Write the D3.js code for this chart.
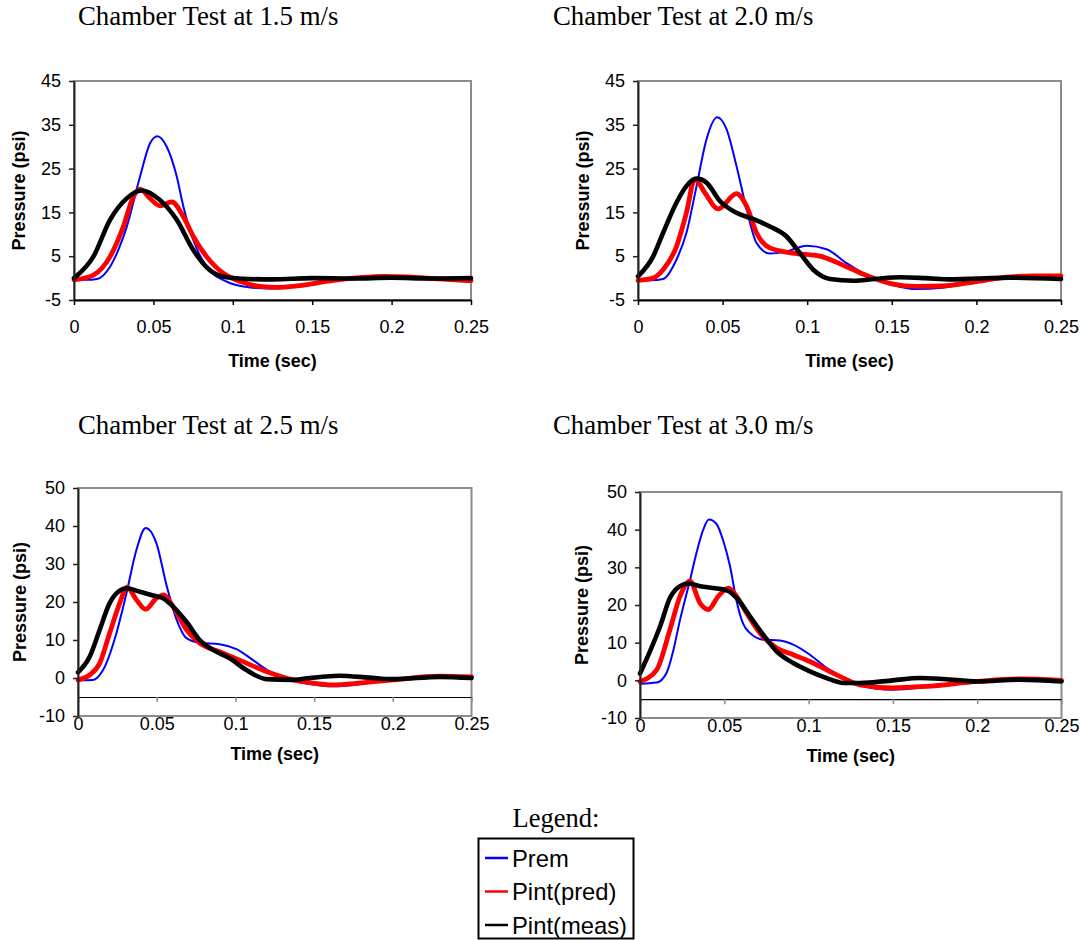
<!DOCTYPE html>
<html>
<head>
<meta charset="utf-8">
<script src="https://cdn.jsdelivr.net/npm/d3@7"></script>
<style>
  html, body { margin: 0; padding: 0; background: #fff; }
  svg { display: block; }
</style>
</head>
<body>
<svg id="chart" width="1091" height="940"></svg>
<script>
// Axis ticks shared by the panels
const timeTicks = [0, 0.05, 0.1, 0.15, 0.2, 0.25];
const yTicksLow = [-5, 5, 15, 25, 35, 45];
const yTicksHigh = [-10, 0, 10, 20, 30, 40, 50];

const panelTitles = [
  "Chamber Test at 1.5 m/s",
  "Chamber Test at 2.0 m/s",
  "Chamber Test at 2.5 m/s",
  "Chamber Test at 3.0 m/s"
];
const seriesNames = ["Prem", "Pint(pred)", "Pint(meas)"];

// [time (sec), pressure (psi)]
const prem15 = [[0,-0.4],[0.008,-0.4],[0.0145,-0.2],[0.0227,2.6],[0.028,6.5],[0.0332,11.7],[0.0416,23.2],[0.0479,30.8],[0.0525,32.4],[0.0584,30],[0.0647,23.2],[0.0689,16.3],[0.0751,8.7],[0.0835,2.6],[0.0961,-0.8],[0.11,-2.1],[0.124,-2.4],[0.14,-1.8],[0.16,-0.6],[0.18,0.1],[0.2,0.3],[0.225,0.1],[0.25,-0.2]];
const pred15 = [[0,-0.4],[0.0122,0.7],[0.0227,4.9],[0.031,11.7],[0.0374,18.6],[0.0416,20.3],[0.0479,18.2],[0.0542,16.5],[0.0615,17.4],[0.0689,14],[0.0751,9.5],[0.0835,4.9],[0.094,1.1],[0.105,-0.8],[0.117,-1.9],[0.128,-2.1],[0.14,-1.8],[0.16,-0.7],[0.18,0.1],[0.195,0.4],[0.21,0.3],[0.23,-0.2],[0.25,-0.6]];
const meas15 = [[0,0],[0.0122,4.9],[0.0227,13.3],[0.0332,18.2],[0.0426,20],[0.0542,17.8],[0.0647,13.3],[0.0751,6.4],[0.0856,1.8],[0.0961,0.2],[0.11,-0.2],[0.125,-0.3],[0.15,0],[0.175,-0.1],[0.2,0.1],[0.225,-0.1],[0.25,0]];

const prem20 = [[0,-0.5],[0.008,-0.5],[0.0148,-0.2],[0.0227,4.2],[0.0286,10.3],[0.0346,21],[0.0405,31.7],[0.0468,36.7],[0.0523,34],[0.0582,25.6],[0.0642,15.7],[0.0701,8],[0.0779,5.6],[0.0878,6.1],[0.0997,7.4],[0.1115,6.6],[0.1233,3.4],[0.137,0.3],[0.15,-1.5],[0.165,-2.5],[0.18,-2.2],[0.2,-0.8],[0.22,0.2],[0.235,0.4],[0.25,0.3]];
const pred20 = [[0,-0.5],[0.0089,0],[0.0148,1.9],[0.0227,7.2],[0.0286,14.9],[0.0336,22.6],[0.0395,19.5],[0.0474,15.8],[0.0582,19.3],[0.0642,16.4],[0.0701,10.3],[0.0779,6.9],[0.0917,5.7],[0.1075,5],[0.1233,2.6],[0.137,0.3],[0.15,-1.3],[0.165,-1.9],[0.18,-1.8],[0.2,-0.8],[0.22,0.3],[0.235,0.5],[0.25,0.5]];
const meas20 = [[0,0.4],[0.0089,4.9],[0.0148,10.3],[0.0227,17.2],[0.0286,21],[0.0346,22.7],[0.0405,21.8],[0.0484,17.6],[0.0582,14.9],[0.068,13.5],[0.0779,11.8],[0.0878,9.5],[0.0957,5.7],[0.1036,1.9],[0.1135,-0.2],[0.1273,-0.6],[0.14,-0.2],[0.155,0.2],[0.17,0],[0.185,-0.3],[0.2,-0.1],[0.22,0.1],[0.25,-0.2]];

const prem25 = [[0,-0.6],[0.0095,-0.5],[0.0159,2.1],[0.0244,11.8],[0.0308,22.3],[0.0371,33.7],[0.043,39.5],[0.0498,35.5],[0.0562,24.5],[0.0625,15.5],[0.0689,10.5],[0.0773,9.3],[0.09,8.9],[0.1007,7.6],[0.1112,4.7],[0.1218,1.7],[0.1345,-0.5],[0.1472,-1.6],[0.162,-2.2],[0.18,-1.6],[0.2,-0.3],[0.225,0.4],[0.25,0]];
const pred25 = [[0,-0.5],[0.0074,0.8],[0.0138,3.9],[0.0201,11.8],[0.0265,19.7],[0.0311,23.9],[0.0371,20.6],[0.043,18.1],[0.0498,21],[0.0545,21.9],[0.0604,18.8],[0.0689,12.7],[0.0773,9.2],[0.09,6.9],[0.1049,4.3],[0.1197,1.7],[0.1366,-0.5],[0.1472,-1.2],[0.162,-1.8],[0.18,-1.3],[0.2,-0.5],[0.23,0.5],[0.25,0.3]];
const meas25 = [[0,1.5],[0.0074,5.6],[0.0138,12.7],[0.0201,19.7],[0.0265,23],[0.0307,23.6],[0.0392,22.7],[0.0477,21.7],[0.054,21],[0.0604,18.8],[0.0689,14.8],[0.0773,10],[0.0858,7.4],[0.0964,5.2],[0.107,2.1],[0.1197,-0.3],[0.1366,-0.5],[0.1472,0],[0.166,0.6],[0.185,0.1],[0.2,-0.3],[0.23,0.3],[0.25,0]];

const prem30 = [[0,-0.9],[0.0099,-0.6],[0.0158,2],[0.0198,8],[0.0237,16],[0.0296,26.5],[0.0336,34],[0.0375,40],[0.0409,42.7],[0.0454,41.5],[0.0494,37],[0.0534,30.3],[0.0573,21],[0.0612,15],[0.0652,12.6],[0.0731,10.8],[0.083,10.6],[0.0909,9.5],[0.1008,6.8],[0.1107,3.3],[0.1206,0.6],[0.1304,-1.4],[0.15,-2.5],[0.17,-1.8],[0.2,0],[0.225,0.4],[0.25,-0.2]];
const pred30 = [[0,-0.3],[0.0099,2.8],[0.0178,13.5],[0.0237,22.3],[0.0296,26.3],[0.0356,20.5],[0.0405,18.8],[0.0464,22.3],[0.0524,24.5],[0.0573,22.3],[0.0632,17.9],[0.0711,12.6],[0.081,8.6],[0.0909,6.8],[0.1008,5],[0.1107,2.8],[0.1206,0.6],[0.1304,-1.2],[0.15,-2],[0.17,-1.6],[0.2,-0.3],[0.225,0.35],[0.25,0]];
const meas30 = [[0,1.8],[0.0059,7.7],[0.0119,14.3],[0.0178,21.9],[0.0237,25],[0.0287,25.7],[0.0356,25],[0.0435,24.5],[0.0514,23.9],[0.0573,21.9],[0.0652,17],[0.0731,12.1],[0.081,7.7],[0.0909,4.6],[0.1008,2.4],[0.1107,0.6],[0.1206,-0.7],[0.1304,-0.7],[0.15,0],[0.166,0.6],[0.18,0.35],[0.2,-0.3],[0.225,0.2],[0.25,-0.3]];

// Series styles: Prem thin blue, predicted red, measured black
const styles = [
  { color: "#0000ff", width: 2 },
  { color: "#ff0000", width: 4.8 },
  { color: "#000000", width: 4.6 }
];

// Panel layout
const panels = [
  { title: panelTitles[0], left: 74,  right: 471,  top: 81,  bottom: 300, yDomain: [-5, 45],  yTicks: yTicksLow,  xAt: -5, data: [prem15, pred15, meas15], titleX: 78,  titleY: 25 },
  { title: panelTitles[1], left: 638, right: 1061, top: 81,  bottom: 300, yDomain: [-5, 45],  yTicks: yTicksLow,  xAt: -5, data: [prem20, pred20, meas20], titleX: 553, titleY: 25 },
  { title: panelTitles[2], left: 78,  right: 471.5, top: 488, bottom: 716, yDomain: [-10, 50], yTicks: yTicksHigh, xAt: -5, data: [prem25, pred25, meas25], titleX: 78,  titleY: 434 },
  { title: panelTitles[3], left: 640, right: 1061.5, top: 492, bottom: 718, yDomain: [-10, 50], yTicks: yTicksHigh, xAt: -5, data: [prem30, pred30, meas30], titleX: 553, titleY: 434 }
];

const svg = d3.select("#chart");
const sans = "'Liberation Sans', Arial, sans-serif";
const serif = "'Liberation Serif', 'Times New Roman', serif";
const fmtTime = d3.format("~g");
const fmtPsi = d => String(d); // plain hyphen-minus, as in the printed labels

panels.forEach(p => {
  const x = d3.scaleLinear().domain([0, 0.25]).range([p.left, p.right]);
  const y = d3.scaleLinear().domain(p.yDomain).range([p.bottom, p.top]);
  const axisAtFloor = p.xAt === p.yDomain[0];

  svg.append("text")
    .attr("x", p.titleX).attr("y", p.titleY)
    .attr("font-family", serif).attr("font-size", 26.8)
    .text(p.title);

  // plot area frame
  svg.append("rect")
    .attr("x", p.left).attr("y", p.top)
    .attr("width", p.right - p.left).attr("height", p.bottom - p.top)
    .attr("fill", "none").attr("stroke", "#8c8c8c").attr("stroke-width", 2);

  // series
  const line = d3.line().x(d => x(d[0])).y(d => y(d[1])).curve(d3.curveMonotoneX);
  p.data.forEach((series, i) => {
    svg.append("path")
      .datum(series)
      .attr("d", line)
      .attr("fill", "none")
      .attr("stroke", styles[i].color)
      .attr("stroke-width", styles[i].width)
      .attr("stroke-linejoin", "round")
      .attr("stroke-linecap", "round");
  });

  // time axis, crossing at -5 psi
  const xAxis = d3.axisBottom(x).tickValues(timeTicks).tickFormat(fmtTime)
    .tickSize(5).tickSizeOuter(0).tickPadding(15);
  const gx = svg.append("g")
    .attr("transform", `translate(0,${y(p.xAt)})`)
    .call(xAxis);
  gx.select(".domain").attr("stroke", "#000").attr("stroke-width", axisAtFloor ? 2 : 1.2);
  gx.selectAll(".tick line").attr("stroke", axisAtFloor ? "#000" : "#8c8c8c").attr("stroke-width", 1.5);
  gx.selectAll(".tick text").attr("font-family", sans).attr("font-size", 18).attr("fill", "#000");

  // pressure axis
  const yAxis = d3.axisLeft(y).tickValues(p.yTicks).tickFormat(fmtPsi)
    .tickSize(5).tickSizeOuter(0).tickPadding(8);
  const gy = svg.append("g")
    .attr("transform", `translate(${p.left},0)`)
    .call(yAxis);
  gy.select(".domain").attr("stroke", "#222").attr("stroke-width", 2);
  gy.selectAll(".tick line").attr("stroke", "#222").attr("stroke-width", 1.5);
  gy.selectAll(".tick text").attr("font-family", sans).attr("font-size", 18).attr("fill", "#000");

  // axis titles
  svg.append("text")
    .attr("x", (p.left + p.right) / 2)
    .attr("y", axisAtFloor ? y(p.xAt) + 67 : p.bottom + 44)
    .attr("text-anchor", "middle")
    .attr("font-family", sans).attr("font-size", 18).attr("font-weight", "bold")
    .text("Time (sec)");
  const cy = (p.top + p.bottom) / 2;
  const tx = p.left - 55 - (axisAtFloor ? 0 : 3);
  svg.append("text")
    .attr("transform", `translate(${tx},${cy}) rotate(-90)`)
    .attr("text-anchor", "middle").attr("dy", "0.35em")
    .attr("font-family", sans).attr("font-size", 18).attr("font-weight", "bold")
    .text("Pressure (psi)");
});

// Legend
svg.append("text")
  .attr("x", 556).attr("y", 827)
  .attr("text-anchor", "middle")
  .attr("font-family", serif).attr("font-size", 26.5)
  .text("Legend:");
svg.append("rect")
  .attr("x", 478.5).attr("y", 838.5).attr("width", 155).attr("height", 100)
  .attr("fill", "none").attr("stroke", "#000").attr("stroke-width", 2);
const legendRowY = d3.scalePoint().domain(seriesNames).range([858, 925]);
seriesNames.forEach((name, i) => {
  const ly = legendRowY(name);
  svg.append("line")
    .attr("x1", 485).attr("x2", 508).attr("y1", ly).attr("y2", ly)
    .attr("stroke", styles[i].color).attr("stroke-width", 2.5);
  svg.append("text")
    .attr("x", 512).attr("y", ly).attr("dy", "0.36em")
    .attr("font-family", sans).attr("font-size", 23.8)
    .text(name);
});
</script>
</body>
</html>
